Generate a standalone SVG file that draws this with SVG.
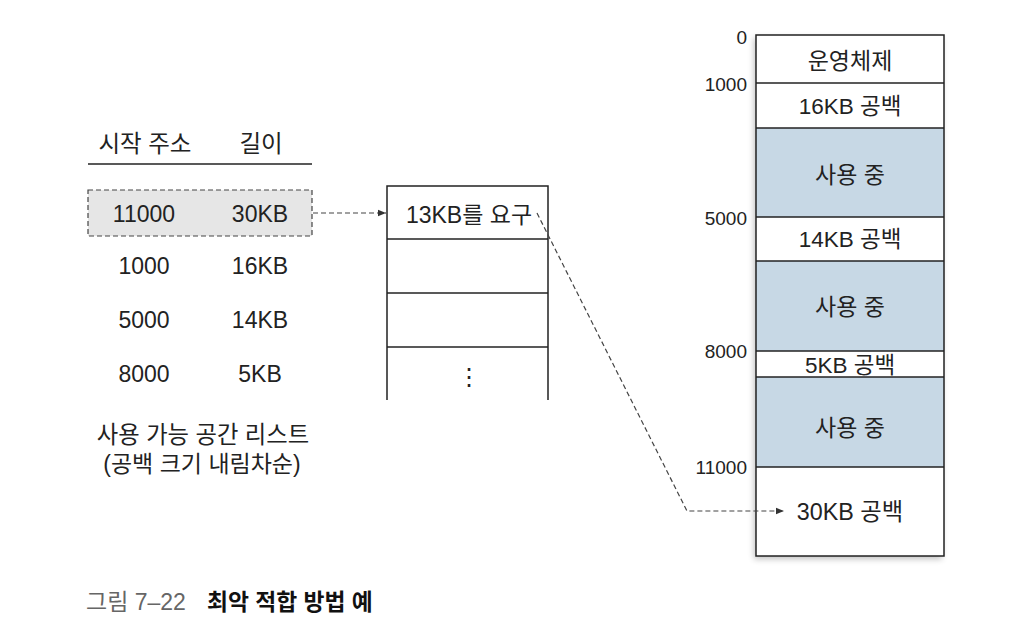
<svg xmlns="http://www.w3.org/2000/svg" width="1018" height="644" viewBox="0 0 1018 644">
<style>
text{font-family:"Liberation Sans","Noto Sans CJK KR",sans-serif;fill:#222}
.line{stroke:#222;stroke-width:1.5;fill:none}
.dash{stroke:#444;stroke-width:1.2;fill:none;stroke-dasharray:5 3}
.mid{text-anchor:middle}
.lbl{font-size:19px;text-anchor:end}
.cel{font-size:22.5px;text-anchor:middle}
.use{font-size:23px;text-anchor:middle}
</style>
<defs>
<marker id="ah" viewBox="0 0 10 10" refX="10" refY="5" markerWidth="8" markerHeight="8" markerUnits="userSpaceOnUse" orient="auto">
<path d="M0,1 L10,5 L0,9 Z" fill="#333"/>
</marker>
<filter id="sh" x="-10%" y="-5%" width="120%" height="110%">
<feGaussianBlur in="SourceAlpha" stdDeviation="3"/>
<feOffset dx="-2" dy="3" result="b"/>
<feComponentTransfer><feFuncA type="linear" slope="0.25"/></feComponentTransfer>
<feMerge><feMergeNode/><feMergeNode in="SourceGraphic"/></feMerge>
</filter>
</defs>
<rect width="1018" height="644" fill="#fff"/>

<g id="free-list">
<text x="145" y="152" class="mid" font-size="23.5">시작 주소</text>
<text x="261" y="152" class="mid" font-size="23.5">길이</text>
<line x1="88" y1="164" x2="312" y2="164" class="line"/>
<rect x="88" y="190" width="224" height="46" class="dash" style="fill:#e6e6e6"/>
<text x="144" y="222" class="mid" font-size="23">11000</text>
<text x="260" y="222" class="mid" font-size="23">30KB</text>
<text x="144" y="274" class="mid" font-size="23">1000</text>
<text x="260" y="274" class="mid" font-size="23">16KB</text>
<text x="144" y="328" class="mid" font-size="23">5000</text>
<text x="260" y="328" class="mid" font-size="23">14KB</text>
<text x="144" y="382" class="mid" font-size="23">8000</text>
<text x="260" y="382" class="mid" font-size="23">5KB</text>
<text x="203" y="443" class="mid" font-size="23.3">사용 가능 공간 리스트</text>
<text x="202" y="472" class="mid" font-size="23">(공백 크기 내림차순)</text>
</g>

<g id="request-queue">
<path d="M387,400 V186 H548 V400" class="line"/>
<line x1="387" y1="239" x2="548" y2="239" class="line"/>
<line x1="387" y1="293" x2="548" y2="293" class="line"/>
<line x1="387" y1="347" x2="548" y2="347" class="line"/>
<text x="469" y="223" class="mid" font-size="23">13KB를 요구</text>
<text x="469" y="385" class="mid" font-size="24" style="font-family:'DejaVu Sans',sans-serif">⋮</text>
</g>

<g id="memory">
<rect x="756" y="35" width="188" height="521" fill="#fff" filter="url(#sh)"/>
<rect x="756" y="128" width="188" height="89" fill="#c7d8e5"/>
<rect x="756" y="261" width="188" height="90" fill="#c7d8e5"/>
<rect x="756" y="377" width="188" height="90" fill="#c7d8e5"/>
<rect x="756" y="35" width="188" height="521" class="line"/>
<line x1="756" y1="83" x2="944" y2="83" class="line"/>
<line x1="756" y1="128" x2="944" y2="128" class="line"/>
<line x1="756" y1="217" x2="944" y2="217" class="line"/>
<line x1="756" y1="261" x2="944" y2="261" class="line"/>
<line x1="756" y1="351" x2="944" y2="351" class="line"/>
<line x1="756" y1="377" x2="944" y2="377" class="line"/>
<line x1="756" y1="467" x2="944" y2="467" class="line"/>
<text x="850" y="69" class="use">운영체제</text>
<text x="850" y="114" class="cel">16KB 공백</text>
<text x="850" y="183" class="use">사용 중</text>
<text x="850" y="247" class="cel">14KB 공백</text>
<text x="850" y="315" class="use">사용 중</text>
<text x="850" y="373" class="cel">5KB 공백</text>
<text x="850" y="436" class="use">사용 중</text>
<text x="850" y="520" class="mid" font-size="23.3">30KB 공백</text>
<text x="747" y="44" class="lbl">0</text>
<text x="747" y="91" class="lbl">1000</text>
<text x="747" y="225" class="lbl">5000</text>
<text x="747" y="358" class="lbl">8000</text>
<text x="747" y="474" class="lbl">11000</text>
</g>

<g id="connectors">
<line x1="313" y1="213" x2="386" y2="213" class="dash" marker-end="url(#ah)"/>
<polyline points="537,213 687,511 784,511" class="dash" marker-end="url(#ah)"/>
</g>

<g id="caption">
<text x="86" y="610" font-size="23" style="fill:#666">그림 7–22</text>
<text x="207" y="610" font-size="22.8" font-weight="bold" style="fill:#111">최악 적합 방법 예</text>
</g>
</svg>
